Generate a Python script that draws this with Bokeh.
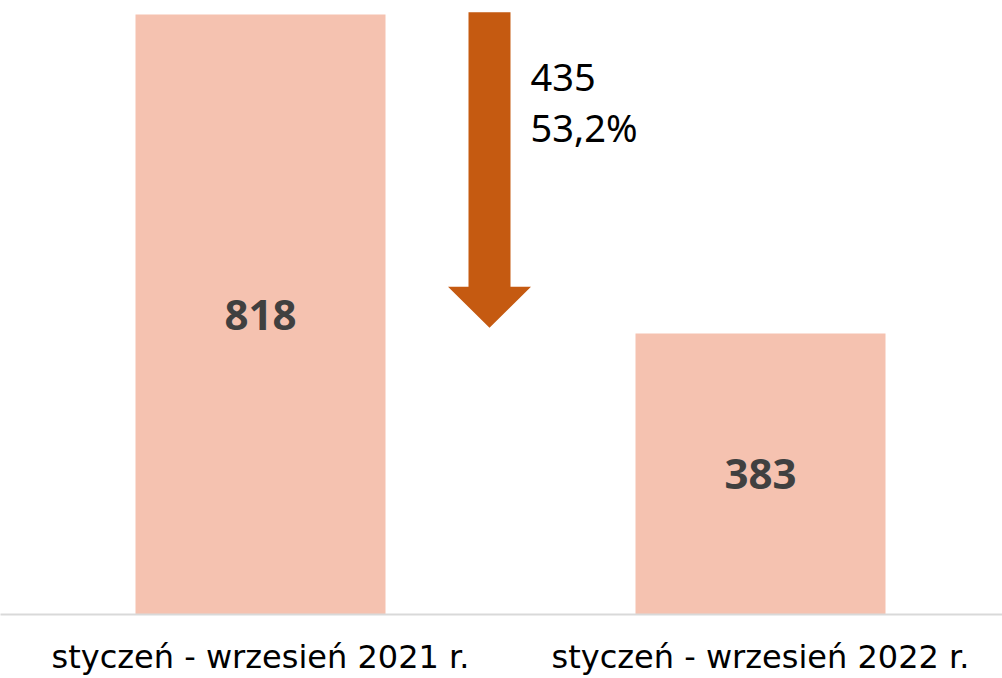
from bokeh.plotting import figure
from bokeh.models import Range1d, FixedTicker, ColumnDataSource
from bokeh.core.properties import value
from bokeh.embed import file_html
from bokeh.resources import INLINE

categories = ["styczeń - wrzesień 2021 r.", "styczeń - wrzesień 2022 r."]
values = [818, 383]
diff_label = "435"
pct_label = "53,2%"

FONT = "Noto Sans"
xs = list(range(len(categories)))

p = figure(width=1002, height=678, output_backend="svg", toolbar_location=None,
           x_range=Range1d(-0.52, 1.484), y_range=Range1d(0, 837.1),
           min_border_left=0, min_border_right=0, min_border_top=0, min_border_bottom=64)
p.outline_line_color = None
p.xgrid.visible = False
p.ygrid.visible = False
p.yaxis.visible = False

src = ColumnDataSource(dict(x=xs, top=values, mid=[v / 2 for v in values],
                            lab=[str(v) for v in values]))
p.vbar(x="x", top="top", bottom=0, width=0.5, source=src,
       fill_color="#F5C2B0", line_color=None)
p.text(x="x", y="mid", text="lab", source=src, text_align="center",
       text_baseline="middle", text_font=value(FONT), text_font_size="42px",
       text_font_style="bold", text_color="#404040")

# arrow from first value down to second value
start, end = values[0], values[1]
cx = 0.458
shaft_w = 0.042
head_w = 0.083
head_len = 56
tip = end + 8
ax = [cx - shaft_w, cx + shaft_w, cx + shaft_w, cx + head_w, cx, cx - head_w, cx - shaft_w]
ay = [start + 3, start + 3, tip + head_len, tip + head_len, tip, tip + head_len, tip + head_len]
p.patch(ax, ay, fill_color="#C55A11", line_color=None)

p.text(x=[cx + 0.082, cx + 0.082], y=[start - 86, start - 154], text=[diff_label, pct_label],
       text_align="left", text_baseline="middle", text_font=value(FONT),
       text_font_size="38px", text_color="#000000")

ax_ = p.xaxis[0]
ax_.ticker = FixedTicker(ticks=xs)
ax_.major_label_overrides = {i: c for i, c in enumerate(categories)}
ax_.major_tick_line_color = None
ax_.minor_tick_line_color = None
ax_.major_tick_out = 0
ax_.major_tick_in = 0
ax_.axis_line_color = "#D9D9D9"
ax_.axis_line_width = 2
ax_.major_label_standoff = 23
ax_.major_label_text_font = "DejaVu Sans"
ax_.major_label_text_font_size = "32px"
ax_.major_label_text_color = "#000000"

open("out.html", "w").write(file_html(p, INLINE))
